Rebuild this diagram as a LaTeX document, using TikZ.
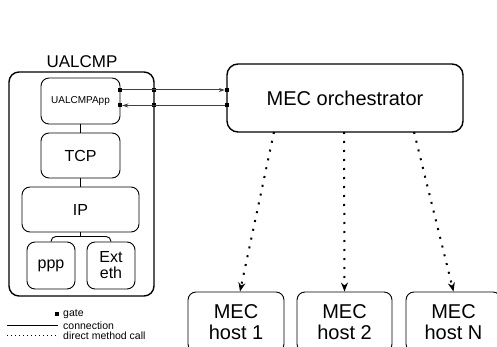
\documentclass[tikz,border=0pt]{standalone}
\usepackage{fontspec}
\setmainfont{Liberation Sans}
\usetikzlibrary{arrows.meta}
\newcommand{\fs}[2]{\fontsize{#1}{#2}\selectfont}
\tikzset{
  box/.style={draw,rounded corners=8pt,line width=.9pt,align=center,inner sep=0pt},
  gate/.style={fill,inner sep=0pt,minimum size=4pt},
  conn/.style={draw=black!75,line width=1pt},
  call/.style={line width=2pt,dash pattern=on 2pt off 7pt,-{Stealth[length=9pt,width=7pt]}},
}
\begin{document}
\begin{tikzpicture}[x=1pt,y=-1pt]
\useasboundingbox (0,0) rectangle (497,347);
% UALCMP and its layers
\node[box,line width=1.4pt,rounded corners=10pt,minimum width=145pt,minimum height=224pt] (ualcmp) at (81.5,184) {};
\node[font=\fs{17}{17}] (ualcmptitle) at (82,62) {UALCMP};
\node[box,minimum width=79pt,minimum height=46pt,font=\fs{10}{10}] (app) at (80.5,101) {UALCMPApp};
\node[box,minimum width=79pt,minimum height=45pt,font=\fs{16}{16}] (tcp) at (80.5,155.5) {TCP};
\node[box,minimum width=117pt,minimum height=45pt,font=\fs{16}{16}] (ip) at (80.5,209.5) {IP};
\node[box,minimum width=48pt,minimum height=47pt,font=\fs{16}{16}] (ppp) at (51,265.5) {ppp};
\node[box,minimum width=48pt,minimum height=47pt,font=\fs{16}{16}] (eth) at (111,265.5) {Ext\\eth};
\draw (app) -- (tcp);
\draw (tcp) -- (ip);
\draw (ip.south) -- ++(0,4) coordinate (split);
\draw[line width=.9pt,rounded corners=5pt] (ppp.north) |- (split) -| (eth.north);
% orchestrator and hosts
\node[box,line width=1.4pt,rounded corners=11pt,minimum width=236pt,minimum height=68pt,font=\fs{20}{20}] (orch) at (345,98) {MEC orchestrator};
\node[box,minimum width=96pt,minimum height=60pt,font=\fs{20}{21}] (host1) at (236,322) {MEC\\host 1};
\node[box,minimum width=95pt,minimum height=60pt,font=\fs{20}{21}] (host2) at (344.5,322) {MEC\\host 2};
\node[box,minimum width=95pt,minimum height=60pt,font=\fs{20}{21}] (hostN) at (453.5,322) {MEC\\host N};
% gates
\node[gate] (g1) at (120,90) {};
\node[gate] (g2) at (120,105.5) {};
\node[gate] (o1) at (154,90) {};
\node[gate] (o2) at (154,105.5) {};
\node[gate] (m1) at (227,90) {};
\node[gate] (m2) at (227,105.5) {};
\draw[conn,-{Stealth[length=6pt,width=4pt]}] (g1) -- (m1);
\draw[conn,-{Stealth[length=6pt,width=4pt]}] (m2) -- (g2);
% direct method calls
\coordinate (s1) at (274,132);
\coordinate (s2) at (344,132);
\coordinate (sN) at (414,132);
\draw[call] (s1) -- (host1.north -| 240,0);
\draw[call] (s2) -- (host2.north);
\draw[call] (sN) -- (hostN.north);
% legend
\node[gate] (lgate) at (57,313.5) {};
\node[anchor=west,inner sep=0pt,font=\fs{10.5}{10.5}] (lgatetxt) at (63,314) {gate};
\coordinate (lc0) at (7,325);
\coordinate (lc1) at (58,325);
\draw[line width=.8pt] (lc0) -- (lc1);
\node[anchor=west,inner sep=0pt,font=\fs{10.5}{10.5}] (lconntxt) at (63,325.5) {connection};
\coordinate (ld0) at (7,335.5);
\coordinate (ld1) at (58,335.5);
\draw[line width=.8pt,dash pattern=on .8pt off 3.2pt] (ld0) -- (ld1);
\node[anchor=west,inner sep=0pt,font=\fs{10.5}{10.5}] (lcalltxt) at (63,336) {direct method call};
\end{tikzpicture}
\end{document}
